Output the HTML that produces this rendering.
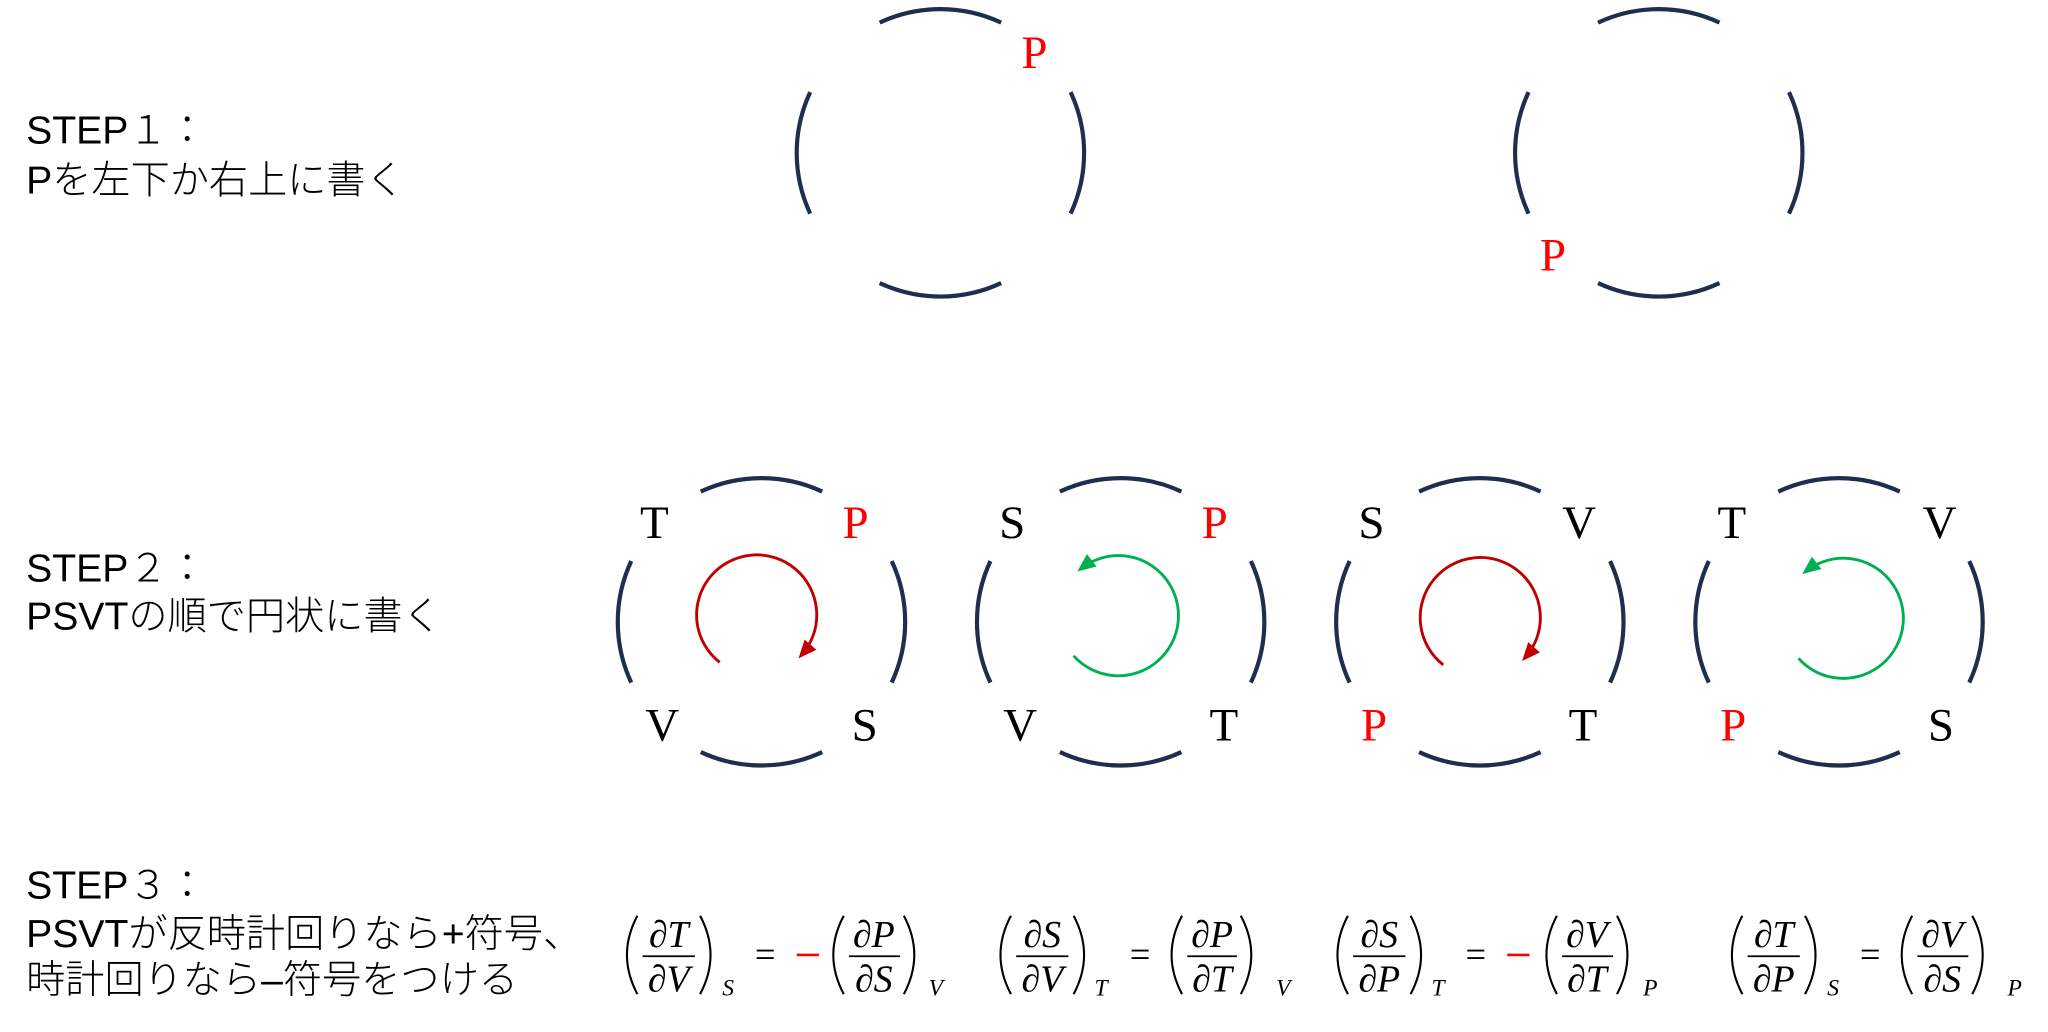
<!DOCTYPE html>
<html><head><meta charset="utf-8"><style>
html,body{margin:0;padding:0;background:#fff;}
svg{display:block;}
.j{font-family:"Liberation Sans","Noto Sans CJK JP",sans-serif;font-size:30px;font-weight:300;fill:#000;}
.l{font-family:"Liberation Serif",serif;font-size:36px;fill:#000;}
.r{fill:#ff0000;}
.m{font-family:"Liberation Serif",serif;font-style:italic;font-weight:400;font-size:29px;fill:#000;}
.s{font-family:"Liberation Serif",serif;font-style:italic;font-size:18px;fill:#000;}
.q{font-family:"Liberation Serif",serif;font-size:28px;fill:#000;}
</style></head><body>
<svg width="2048" height="1032" viewBox="0 0 1568 790" preserveAspectRatio="none" xmlns="http://www.w3.org/2000/svg">
<defs>
<g id="ring" fill="none" stroke="#1f2d4e" stroke-width="3.2">
<path d="M -46.5 -99.7 A 110 110 0 0 1 46.5 -99.7"/>
<path d="M 99.7 -46.5 A 110 110 0 0 1 99.7 46.5"/>
<path d="M 46.5 99.7 A 110 110 0 0 1 -46.5 99.7"/>
<path d="M -99.7 46.5 A 110 110 0 0 1 -99.7 -46.5"/>
</g>
<marker id="ag" markerWidth="16" markerHeight="12" refX="10" refY="6" orient="auto" markerUnits="userSpaceOnUse"><path d="M0,0 L14,6 L0,12 z" fill="#00b050"/></marker>
<marker id="ar2" markerWidth="16" markerHeight="12" refX="10" refY="6" orient="auto" markerUnits="userSpaceOnUse"><path d="M0,0 L14,6 L0,12 z" fill="#c00000"/></marker>
<g id="redarc"><path d="M -30 39 A 46 46 0 1 1 33 33" fill="none" stroke="#c00000" stroke-width="2.2" marker-end="url(#ar2)"/></g>
<g id="grnarc"><path d="M -36 33 A 46 46 0 1 0 -30 -34" fill="none" stroke="#00b050" stroke-width="2.2" marker-end="url(#ag)"/></g>
</defs>

<text class="j" x="20" y="110">STEP１：</text>
<text class="j" x="20" y="148">Pを左下か右上に書く</text>
<use href="#ring" x="720" y="117"/>
<text class="l r" x="782" y="52" font-size="32">P</text>
<use href="#ring" x="1270" y="117"/>
<text class="l r" x="1179" y="207" font-size="32">P</text>

<text class="j" x="20" y="445">STEP２：</text>
<text class="j" x="20" y="482">PSVTの順で円状に書く</text>

<use href="#ring" x="583" y="476"/>
<use href="#redarc" x="581" y="468"/>
<text class="l" x="490" y="412">T</text><text class="l r" x="645" y="412">P</text>
<text class="l" x="494" y="567">V</text><text class="l" x="652" y="567">S</text>

<use href="#ring" x="858" y="476"/>
<use href="#grnarc" x="858" y="469"/>
<text class="l" x="765" y="412">S</text><text class="l r" x="920" y="412">P</text>
<text class="l" x="768" y="567">V</text><text class="l" x="926" y="567">T</text>

<use href="#ring" x="1133" y="476"/>
<use href="#redarc" x="1135" y="470"/>
<text class="l" x="1040" y="412">S</text><text class="l" x="1196" y="412">V</text>
<text class="l r" x="1042" y="567">P</text><text class="l" x="1201" y="567">T</text>

<use href="#ring" x="1408" y="476"/>
<use href="#grnarc" x="1413" y="471"/>
<text class="l" x="1315" y="412">T</text><text class="l" x="1472" y="412">V</text>
<text class="l r" x="1317" y="567">P</text><text class="l" x="1476" y="567">S</text>

<text class="j" x="20" y="688">STEP３：</text>
<text class="j" x="20" y="725">PSVTが反時計回りなら+符号、</text>
<text class="j" x="20" y="760">時計回りなら–符号をつける</text>

<g fill="none" stroke="#000" stroke-width="1.6">
<path d="M488 701 Q472 731 488 761"/><path d="M536 701 Q552 731 536 761"/>
<path d="M646 701 Q630 731 646 761"/><path d="M692 701 Q708 731 692 761"/>
<path d="M774 701 Q758 731 774 761"/><path d="M822 701 Q838 731 822 761"/>
<path d="M905 701 Q889 731 905 761"/><path d="M950 701 Q966 731 950 761"/>
<path d="M1032 701 Q1016 731 1032 761"/><path d="M1080 701 Q1096 731 1080 761"/>
<path d="M1192 701 Q1176 731 1192 761"/><path d="M1238 701 Q1254 731 1238 761"/>
<path d="M1334 701 Q1318 731 1334 761"/><path d="M1382 701 Q1398 731 1382 761"/>
<path d="M1464 701 Q1448 731 1464 761"/><path d="M1510 701 Q1526 731 1510 761"/>
</g>
<g stroke="#000" stroke-width="1.4">
<line x1="492" y1="732" x2="532" y2="732"/><line x1="650" y1="732" x2="689" y2="732"/>
<line x1="778" y1="732" x2="818" y2="732"/><line x1="909" y1="732" x2="947" y2="732"/>
<line x1="1036" y1="732" x2="1076" y2="732"/><line x1="1196" y1="732" x2="1235" y2="732"/>
<line x1="1338" y1="732" x2="1378" y2="732"/><line x1="1468" y1="732" x2="1507" y2="732"/>
</g>
<g text-anchor="middle">
<text class="m" x="512" y="725">∂T</text><text class="m" x="512" y="759">∂V</text>
<text class="m" x="669" y="725">∂P</text><text class="m" x="669" y="759">∂S</text>
<text class="m" x="798" y="725">∂S</text><text class="m" x="798" y="759">∂V</text>
<text class="m" x="928" y="725">∂P</text><text class="m" x="928" y="759">∂T</text>
<text class="m" x="1056" y="725">∂S</text><text class="m" x="1056" y="759">∂P</text>
<text class="m" x="1215" y="725">∂V</text><text class="m" x="1215" y="759">∂T</text>
<text class="m" x="1358" y="725">∂T</text><text class="m" x="1358" y="759">∂P</text>
<text class="m" x="1487" y="725">∂V</text><text class="m" x="1487" y="759">∂S</text>
</g>
<text class="s" x="553" y="762">S</text><text class="s" x="711" y="762">V</text>
<text class="s" x="838" y="762">T</text><text class="s" x="977" y="762">V</text>
<text class="s" x="1096" y="762">T</text><text class="s" x="1258" y="762">P</text>
<text class="s" x="1399" y="762">S</text><text class="s" x="1537" y="762">P</text>
<text class="q" x="578" y="740">=</text><rect x="610" y="730" width="17" height="2" fill="#ff0000"/>
<text class="q" x="865" y="740">=</text>
<text class="q" x="1122" y="740">=</text><rect x="1154" y="730" width="17" height="2" fill="#ff0000"/>
<text class="q" x="1424" y="740">=</text>
</svg>
</body></html>
